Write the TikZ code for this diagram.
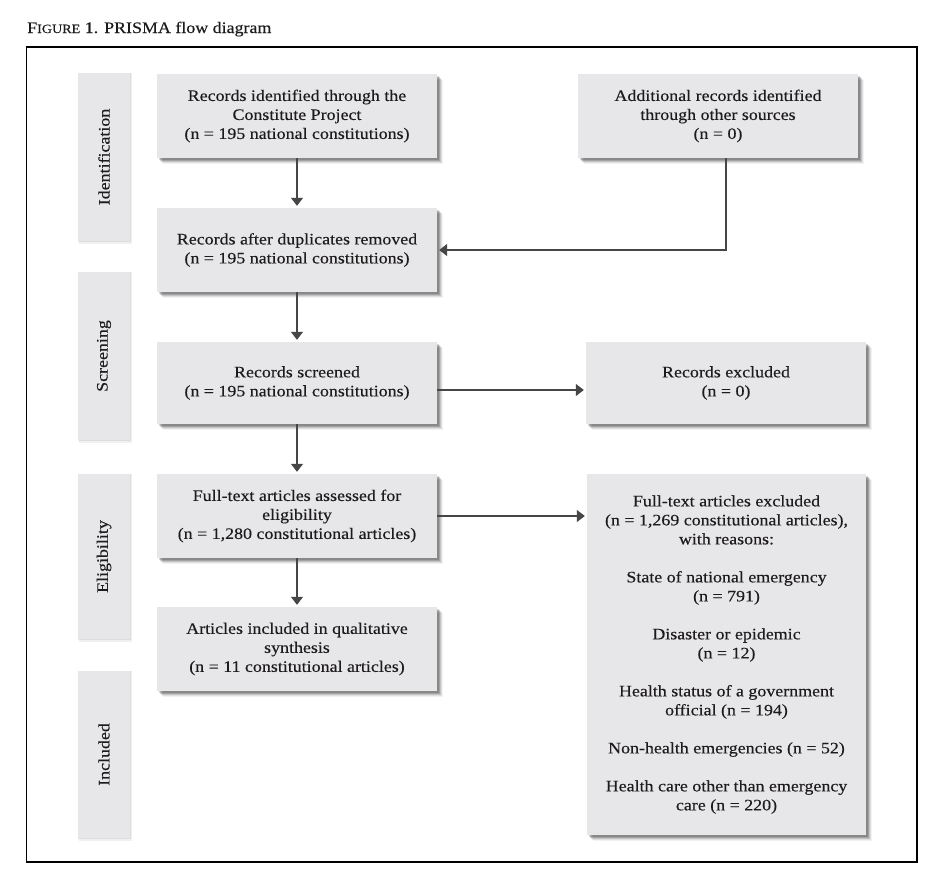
\documentclass[tikz,border=0pt]{standalone}
\usepackage{fontspec}
\setmainfont{Liberation Serif}[FakeStretch=1.12,FakeBold=0.3]
\usetikzlibrary{shadows,arrows.meta}
\definecolor{boxgray}{RGB}{231,231,233}
\definecolor{txt}{RGB}{30,27,28}
\definecolor{linegray}{RGB}{70,70,70}
\tikzset{
  softshadow/.style={
    general shadow={shadow xshift=6pt,shadow yshift=-6pt,fill=black,opacity=0.05},
    general shadow={shadow xshift=5pt,shadow yshift=-5pt,fill=black,opacity=0.08},
    general shadow={shadow xshift=4pt,shadow yshift=-4pt,fill=black,opacity=0.12},
    general shadow={shadow xshift=3pt,shadow yshift=-3pt,fill=black,opacity=0.16},
    general shadow={shadow xshift=2pt,shadow yshift=-2pt,fill=black,opacity=0.16}},
  lightshadow/.style={
    general shadow={shadow xshift=1.5pt,shadow yshift=-1.5pt,shadow scale=1.02,fill=black,opacity=0.06},
    general shadow={shadow xshift=0.5pt,shadow yshift=-0.5pt,shadow scale=1.01,fill=black,opacity=0.08}},
  box/.style={softshadow,fill=boxgray,draw=none,minimum width=280pt,minimum height=84pt,
    align=center,inner sep=0pt,text=txt,font=\fontsize{16}{19}\selectfont},
  side/.style={lightshadow,fill=boxgray,draw=none,minimum width=52pt,
    inner sep=0pt,text=txt,font=\fontsize{16}{19}\selectfont},
  arr/.style={draw=linegray,line width=1.1pt,-{Triangle[width=12pt,length=8pt]},shorten >=2pt}
}
\begin{document}
\begin{tikzpicture}[x=1pt,y=-1pt]
\useasboundingbox (0,0) rectangle (947,876);
\fill[white] (0,0) rectangle (947,876);
\node[anchor=base west,inner sep=0pt,text=txt,font=\fontsize{16}{19}\selectfont] (title) at (27,33)
  {F{\fontsize{12.6}{15}\selectfont IGURE} 1. PRISMA flow diagram};
\draw[black,line width=1.2pt] (26.5,47) rectangle (917,862);
% side labels
\node[side,minimum height=168pt] (s1) at (104,157) {\rotatebox{90}{Identification}};
\node[side,minimum height=168pt] (s2) at (104,356) {\rotatebox{90}{Screening}};
\node[side,minimum height=165pt] (s3) at (104,556.5) {\rotatebox{90}{Eligibility}};
\node[side,minimum height=167pt] (s4) at (104,754.5) {\rotatebox{90}{Included}};
% boxes
\node[box] (b1) at (297,116) {Records identified through the\\Constitute Project\\(n = 195 national constitutions)};
\node[box] (b2) at (718,116) {Additional records identified\\through other sources\\(n = 0)};
\node[box] (b3) at (297,250) {Records after duplicates removed\\(n = 195 national constitutions)};
\node[box,minimum height=82pt] (b4) at (297,383) {Records screened\\(n = 195 national constitutions)};
\node[box,minimum height=82pt] (b5) at (726,383) {Records excluded\\(n = 0)};
\node[box] (b6) at (297,516) {Full-text articles assessed for\\eligibility\\(n = 1,280 constitutional articles)};
\node[box,minimum width=279pt,minimum height=361pt] (b7) at (726.5,654.5)
  {Full-text articles excluded\\(n = 1,269 constitutional articles),\\with reasons:\\[19pt]
   State of national emergency\\(n = 791)\\[19pt]
   Disaster or epidemic\\(n = 12)\\[19pt]
   Health status of a government\\official (n = 194)\\[19pt]
   Non-health emergencies (n = 52)\\[19pt]
   Health care other than emergency\\care (n = 220)};
\node[box] (b8) at (297,649) {Articles included in qualitative\\synthesis\\(n = 11 constitutional articles)};
% arrows
\draw[arr] (b1) -- (b3);
\draw[arr] ([xshift=8pt]b2.south) |- (b3.east);
\draw[arr] (b3) -- (b4);
\draw[arr] ([yshift=-7pt]b4.east) -- ([yshift=-7pt]b4.east -| b5.west);
\draw[arr] (b4) -- (b6);
\draw[arr] (b6.east) -- (b6.east -| b7.west);
\draw[arr] (b6) -- (b8);
\end{tikzpicture}
\end{document}
